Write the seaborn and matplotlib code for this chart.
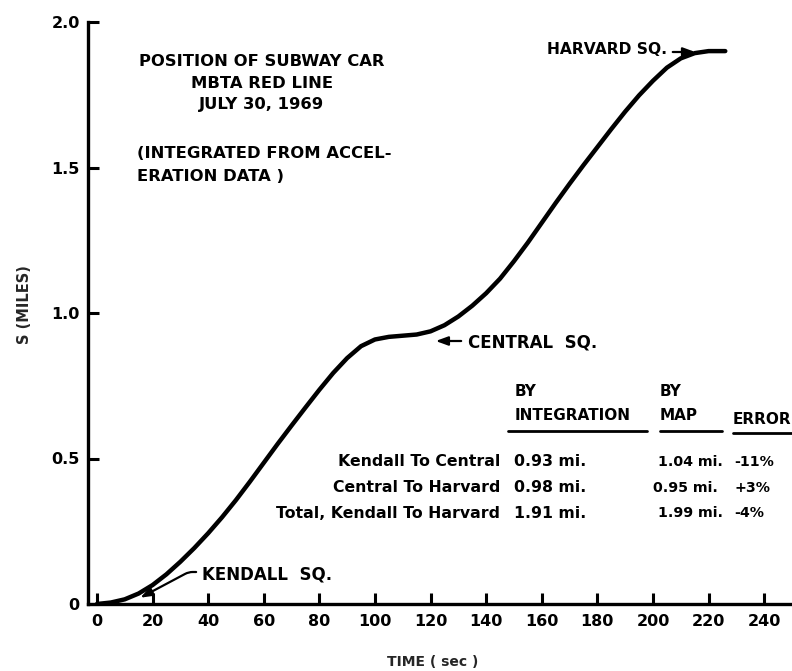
import matplotlib
matplotlib.use("Agg")
import matplotlib.pyplot as plt
import seaborn as sns
import pandas as pd

# ---- data ----
time_sec = [0, 5, 10, 15, 20, 25, 30, 35, 40, 45, 50, 55, 60, 65, 70, 75, 80,
            85, 90, 95, 100, 105, 110, 115, 120, 125, 130, 135, 140, 145, 150,
            155, 160, 165, 170, 175, 180, 185, 190, 195, 200, 205, 210, 215,
            220, 226]
position_mi = [0, 0.005, 0.016, 0.036, 0.065, 0.102, 0.145, 0.192, 0.243,
               0.298, 0.357, 0.420, 0.485, 0.550, 0.613, 0.675, 0.736, 0.794,
               0.845, 0.886, 0.909, 0.918, 0.922, 0.926, 0.937, 0.958, 0.988,
               1.025, 1.068, 1.118, 1.178, 1.242, 1.310, 1.378, 1.444, 1.508,
               1.570, 1.632, 1.692, 1.748, 1.798, 1.843, 1.875, 1.893, 1.900,
               1.900]

x_ticks = [0, 20, 40, 60, 80, 100, 120, 140, 160, 180, 200, 220, 240]
y_ticks = [0, 0.5, 1.0, 1.5, 2.0]
y_tick_labels = ["0", "0.5", "1.0", "1.5", "2.0"]

title_lines = ["POSITION OF SUBWAY CAR", "MBTA RED LINE", "JULY 30, 1969"]
note_lines = ["(INTEGRATED FROM ACCEL-", "ERATION DATA )"]

row_labels = ["Kendall To Central", "Central To Harvard", "Total, Kendall To Harvard"]
by_integration = ["0.93 mi.", "0.98 mi.", "1.91 mi."]
by_map = ["1.04 mi.", "0.95 mi.", "1.99 mi."]
errors = ["-11%", "+3%", "-4%"]

df = pd.DataFrame({"time": time_sec, "s": position_mi})

sns.set_theme(style="ticks")
plt.rcParams["font.family"] = ["DejaVu Sans"]
plt.rcParams["font.weight"] = "bold"

W, H = 792, 671
fig = plt.figure(figsize=(W / 100, H / 100), dpi=100)
ax = fig.add_axes([88 / W, (H - 604) / H, (792 - 88) / W, (604 - 22) / H])

sns.lineplot(data=df, x="time", y="s", ax=ax, color="black", linewidth=3.2)
ax.lines[0].set_solid_joinstyle("round")
ax.lines[0].set_solid_capstyle("round")

ax.set_xlim(-3.2, 250)
ax.set_ylim(0, 2.0)
ax.set_xticks(x_ticks)
ax.set_xticklabels([str(v) for v in x_ticks])
ax.set_yticks(y_ticks)
ax.set_yticklabels(y_tick_labels)
ax.tick_params(axis="both", direction="in", length=8, width=2.2,
               labelsize=11.5, colors="black")
ax.tick_params(axis="x", pad=7)
ax.tick_params(axis="y", pad=6)
for lab in ax.get_xticklabels() + ax.get_yticklabels():
    lab.set_fontweight("bold")

for side in ["top", "right"]:
    ax.spines[side].set_visible(False)
for side in ["left", "bottom"]:
    ax.spines[side].set_linewidth(2.4)
    ax.spines[side].set_color("black")

ax.set_xlabel("TIME ( sec )", fontsize=10, fontweight="bold")
ax.set_ylabel("S (MILES)", fontsize=10.5, fontweight="bold")
ax.xaxis.set_label_coords(0.49, -0.088)
ax.yaxis.set_label_coords(-0.08, 0.514)


def fx(px):
    return px / W


def fy(py):
    return 1 - py / H


def dpos(px, py):
    return ((px - 97) / 2.78, (604 - py) / 291)


tkw = dict(fontsize=11.8, fontweight="bold", color="black", va="center")
for line, py in zip(title_lines, [62, 84, 105]):
    fig.text(fx(262), fy(py), line, ha="center", **tkw)
for line, py in zip(note_lines, [153, 177]):
    fig.text(fx(137), fy(py), line, ha="left", **tkw)

lkw = dict(fontweight="bold", color="black", va="center")
fig.text(fx(547), fy(50), "HARVARD SQ.", ha="left", fontsize=11.2, **lkw)
fig.text(fx(468), fy(342), "CENTRAL  SQ.", ha="left", fontsize=12, **lkw)
fig.text(fx(202), fy(574), "KENDALL  SQ.", ha="left", fontsize=12, **lkw)

arr = dict(arrowstyle="-|>,head_length=0.6,head_width=0.22", color="black", lw=1.6)
ax.annotate("", xy=dpos(698, 52), xytext=dpos(670, 52), arrowprops=arr)
ax.annotate("", xy=dpos(433, 341), xytext=dpos(464, 341), arrowprops=arr)
ax.annotate("", xy=dpos(138, 599), xytext=dpos(199, 572),
            arrowprops=dict(arr, connectionstyle="angle,angleA=0,angleB=28,rad=4"))

# ---- comparison table ----
hk = dict(fontsize=11, fontweight="bold", color="black", va="center", ha="left")
fig.text(fx(515), fy(392), "BY", **hk)
fig.text(fx(515), fy(416), "INTEGRATION", **hk)
fig.text(fx(660), fy(392), "BY", **hk)
fig.text(fx(660), fy(416), "MAP", **hk)
fig.text(fx(733), fy(419), "ERROR", **hk)
for x0, x1, py in [(508, 647, 431), (660, 722, 431), (733, 792, 433)]:
    fig.add_artist(plt.Line2D([fx(x0), fx(x1)], [fy(py), fy(py)],
                              color="black", lw=2.0))

vk = dict(fontsize=11.3, fontweight="bold", color="black", va="center", ha="left")
mk = dict(fontsize=10.2, fontweight="bold", color="black", va="center", ha="left")
rows_y = [462, 488, 513]
map_x = [658, 653, 658]
for lab, v1, v2, e, py, mx in zip(row_labels, by_integration, by_map, errors,
                                  rows_y, map_x):
    fig.text(fx(500), fy(py), lab, fontsize=11.3, fontweight="bold",
             color="black", va="center", ha="right")
    fig.text(fx(514), fy(py), v1, **vk)
    fig.text(fx(mx), fy(py), v2, **mk)
    fig.text(fx(734), fy(py), e, **mk)

fig.savefig("out.png", dpi=100, facecolor="white")
